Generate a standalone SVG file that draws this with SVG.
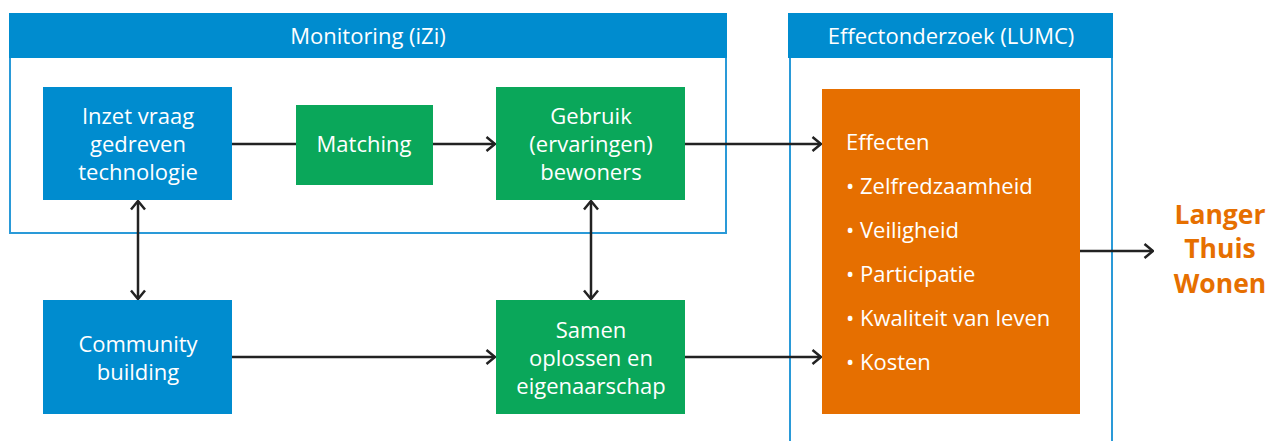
<svg xmlns="http://www.w3.org/2000/svg" width="1281" height="441" viewBox="0 0 1281 441">
<style>
.hdr{fill:#008ccf}
.frame{fill:none;stroke:#2a9ad8;stroke-width:2}
.blue{fill:#008ccf}
.green{fill:#0aa75a}
.orange{fill:#e66f00}
.t{font-family:"Open Sans","Noto Sans",sans-serif;font-size:22px;fill:#fff}
.c{text-anchor:middle}
.ln{stroke:#222;stroke-width:2.5;fill:none}
.goal{font-family:"Open Sans","Noto Sans",sans-serif;font-size:26.5px;font-weight:bold;fill:#e66f00;text-anchor:middle}
</style>
<defs>
<marker id="ah" viewBox="0 0 11 16" refX="10" refY="8" markerWidth="11" markerHeight="16" markerUnits="userSpaceOnUse" orient="auto-start-reverse">
<path d="M1.5,1 L10,8 L1.5,15" fill="none" stroke="#222" stroke-width="2.5"/>
</marker>
</defs>
<g id="monitoring">
<rect class="frame" x="10" y="14" width="716" height="219"/>
<rect class="hdr" x="9" y="13" width="718" height="45"/>
<text class="t c" x="368" y="44">Monitoring (iZi)</text>
</g>
<g id="effectonderzoek">
<path class="frame" d="M790,58 V441 M1112,58 V441"/>
<rect class="hdr" x="788" y="13" width="325" height="45"/>
<text class="t c" x="951" y="44">Effectonderzoek (LUMC)</text>
</g>
<g id="connectors">
<line class="ln" x1="232" y1="144" x2="296" y2="144"/>
<line class="ln" x1="433" y1="144" x2="495" y2="144" marker-end="url(#ah)"/>
<line class="ln" x1="685" y1="144" x2="821" y2="144" marker-end="url(#ah)"/>
<line class="ln" x1="138" y1="201" x2="138" y2="299" marker-start="url(#ah)" marker-end="url(#ah)"/>
<line class="ln" x1="591" y1="201" x2="591" y2="299" marker-start="url(#ah)" marker-end="url(#ah)"/>
<line class="ln" x1="232" y1="357" x2="495" y2="357" marker-end="url(#ah)"/>
<line class="ln" x1="685" y1="357" x2="821" y2="357" marker-end="url(#ah)"/>
<line class="ln" x1="1080" y1="251" x2="1153" y2="251" marker-end="url(#ah)"/>
</g>
<g id="inzet">
<rect class="blue" x="43" y="87" width="189" height="113"/>
<text class="t c" x="138" y="124">Inzet vraag</text>
<text class="t c" x="138" y="152">gedreven</text>
<text class="t c" x="138" y="180">technologie</text>
</g>
<g id="matching">
<rect class="green" x="296" y="105" width="137" height="80"/>
<text class="t c" x="364" y="152">Matching</text>
</g>
<g id="gebruik">
<rect class="green" x="496" y="87" width="189" height="113"/>
<text class="t c" x="591" y="124">Gebruik</text>
<text class="t c" x="591" y="152">(ervaringen)</text>
<text class="t c" x="591" y="180">bewoners</text>
</g>
<g id="community">
<rect class="blue" x="43" y="300" width="189" height="114"/>
<text class="t c" x="138" y="352">Community</text>
<text class="t c" x="138" y="380">building</text>
</g>
<g id="samen">
<rect class="green" x="496" y="300" width="189" height="114"/>
<text class="t c" x="591" y="338">Samen</text>
<text class="t c" x="591" y="366">oplossen en</text>
<text class="t c" x="591" y="394">eigenaarschap</text>
</g>
<g id="effecten">
<rect class="orange" x="822" y="89" width="258" height="325"/>
<text class="t" x="846" y="150">Effecten</text>
<text class="t" x="846" y="194">• Zelfredzaamheid</text>
<text class="t" x="846" y="238">• Veiligheid</text>
<text class="t" x="846" y="282">• Participatie</text>
<text class="t" x="846" y="326">• Kwaliteit van leven</text>
<text class="t" x="846" y="370">• Kosten</text>
</g>
<g id="goal">
<text class="goal" x="1220" y="224">Langer</text>
<text class="goal" x="1220" y="258">Thuis</text>
<text class="goal" x="1220" y="293">Wonen</text>
</g>
</svg>
